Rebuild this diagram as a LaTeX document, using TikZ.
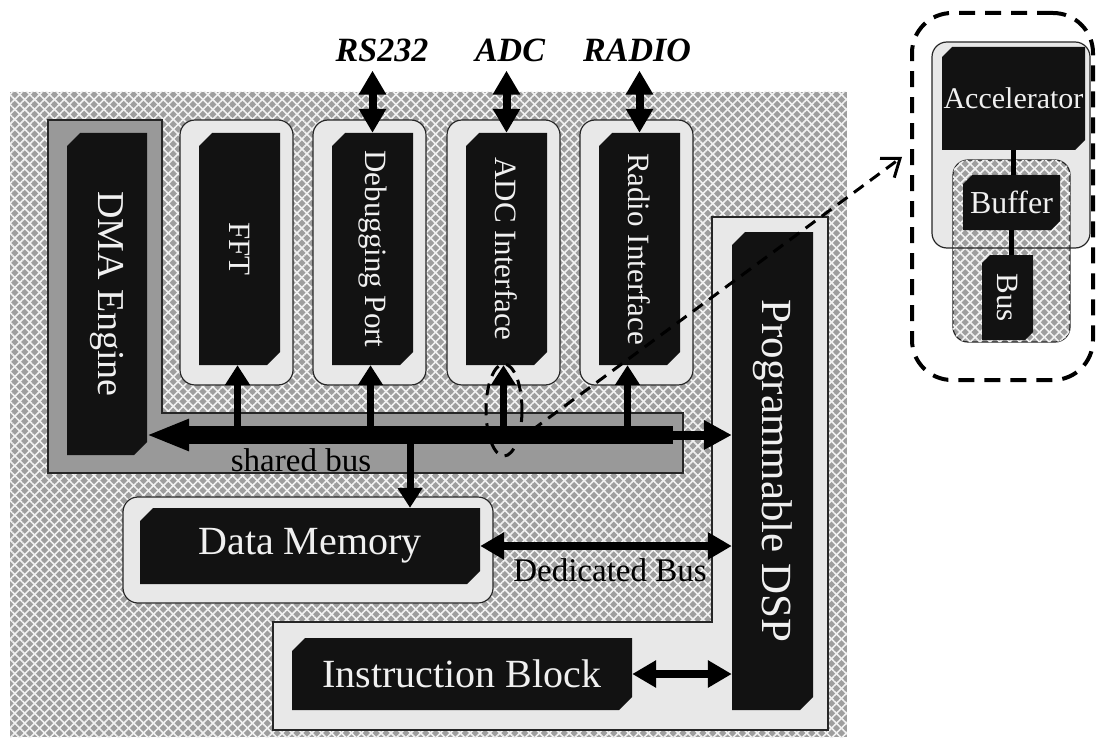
\documentclass[tikz,border=0pt]{standalone}
\usepackage{fontspec}
\setmainfont{Liberation Serif}
\usetikzlibrary{arrows.meta,patterns.meta}

% Chamfered black block: name, x1, y1, x2, y2, chamfer, text
\newcommand\chblock[7]{%
  \fill[blockfill] ({#2+#6},#3) -- (#4,#3) -- (#4,{#5-#6}) -- ({#4-#6},#5)
     -- (#2,#5) -- (#2,{#3+#6}) -- cycle;
  \node[blocktext, minimum width={#4-#2}, minimum height={#5-#3}]
     (#1) at ({(#2+#4)/2},{(#3+#5)/2}) {#7};
}
% rotated (top-to-bottom) label of a given size
\newcommand\vlab[2]{\fontsize{#1}{#1}\selectfont\rotatebox{-90}{#2}}
\newcommand\hlab[2]{\fontsize{#1}{#1}\selectfont #2}

\tikzset{
  texture/.style={fill=black!38,
    postaction={pattern={Lines[angle=45,distance=7pt,line width=1.6pt]},pattern color=black!5},
    postaction={pattern={Lines[angle=-45,distance=7pt,line width=1.6pt]},pattern color=black!5}},
  dmareg/.style={fill=black!40, draw=black!85, line width=1.2pt},
  contbox/.style={fill=black!9, draw=black!85, line width=1.2pt, rounded corners=15pt},
  lightreg/.style={fill=black!9, draw=black!85, line width=1.2pt},
  blockfill/.style={fill=black!93},
  blocktext/.style={text=black!6, inner sep=0pt, draw=none, fill=none},
  toplab/.style={font=\fontsize{34}{36}\selectfont\bfseries\itshape, inner sep=0pt},
  buslab/.style={font=\fontsize{33}{36}\selectfont, inner sep=0pt},
  dblv/.style={line width=8pt, {Triangle[width=26pt,length=24pt]}-{Triangle[width=26pt,length=24pt]}},
  dblh/.style={line width=8pt, {Triangle[width=26pt,length=24pt]}-{Triangle[width=26pt,length=24pt]}},
  vup/.style={line width=7pt, -{Triangle[width=24pt,length=20pt]}},
  dashln/.style={line width=3pt, dash pattern=on 12pt off 8pt},
  link/.style={line width=5pt},
}

\begin{document}
\begin{tikzpicture}[x=1pt,y=-1pt]
\useasboundingbox (0,0) rectangle (1097,738);

% textured chip area
\fill[texture] (10,92) rectangle (847,737);

% DMA engine region with the shared bus band
\draw[dmareg] (48,120) -- (162,120) -- (162,413) -- (683,413) -- (683,473) -- (48,473) -- cycle;

% peripheral containers
\draw[contbox] (180,120) rectangle (293,385);
\draw[contbox] (313,120) rectangle (426,385);
\draw[contbox] (447,120) rectangle (560,385);
\draw[contbox] (580,120) rectangle (693,385);

% data memory container
\draw[contbox] (123,497) rectangle (493,603);

% DSP region with the instruction block
\draw[lightreg] (712,217) -- (828,217) -- (828,730) -- (273,730) -- (273,622) -- (712,622) -- cycle;

% blocks
\chblock{dma}{67}{133}{147}{455}{13}{\vlab{38}{DMA Engine}}
\chblock{fft}{199}{133}{280}{365}{13}{\vlab{31}{FFT}}
\chblock{dbg}{332}{133}{413}{365}{13}{\vlab{31}{Debugging Port}}
\chblock{adc}{466}{133}{547}{365}{13}{\vlab{31}{ADC Interface}}
\chblock{radio}{599}{133}{680}{365}{13}{\vlab{31}{Radio Interface}}
\chblock{dmem}{140}{508}{480}{584}{13}{\hlab{40}{Data Memory}}
\chblock{dsp}{732}{232}{813}{710}{13}{\vlab{43}{Programmable DSP}}
\chblock{instr}{292}{638}{632}{710}{13}{\hlab{40}{Instruction Block}}

% external interface labels
\node[toplab] (rs) at (382,50) {RS232};
\node[toplab] (adcx) at (510,50) {ADC};
\node[toplab] (radx) at (637,50) {RADIO};

\draw[dblv] ([yshift=-9pt]rs.south -| dbg.north) -- (dbg.north);
\draw[dblv] ([yshift=-9pt]adcx.south -| adc.north) -- (adc.north);
\draw[dblv] ([yshift=-9pt]radx.south -| radio.north) -- (radio.north);

% shared bus
\node[fill=black, minimum width=485pt, minimum height=18pt, inner sep=0pt] (sbus) at (430.5,435) {};
\draw[line width=9pt, -{Triangle[width=30pt,length=42pt]}] (sbus.west) -- (dma.east |- sbus.west);
\draw[line width=9pt, -{Triangle[width=28pt,length=28pt]}] (sbus.east) -- (dsp.west |- sbus.east);

\coordinate (fftin) at ([xshift=-2pt]fft.south);
\coordinate (dbgin) at ([xshift=-2pt]dbg.south);
\coordinate (adcin) at ([xshift=-3pt]adc.south);
\coordinate (radin) at ([xshift=-12pt]radio.south);
\coordinate (dmtop) at ([xshift=100pt]dmem.north);
\draw[vup] (sbus.center -| fftin) -- (fftin);
\draw[vup] (sbus.center -| dbgin) -- (dbgin);
\draw[vup] (sbus.center -| adcin) -- (adcin);
\draw[vup] (sbus.center -| radin) -- (radin);
\draw[vup] (sbus.center -| dmtop) -- (dmtop);
\node[buslab] (sharedlab) at (301,460) {shared bus};

% dedicated bus and instruction path
\draw[dblh] (dmem.east) -- (dsp.west |- dmem.east);
\node[buslab] (dedlab) at (610,570) {Dedicated Bus};
\draw[dblh] (instr.east) -- (dsp.west |- instr.east);

% highlighted junction and pointer to the detail view
\draw[dashln] (504,410) ellipse [x radius=18, y radius=46];
\coordinate (zoomfrom) at (516,442);
\coordinate (zoomto) at (902,157);
\draw[dashln, -{Straight Barb[length=16pt,width=24pt,line width=3pt]}] (zoomfrom) -- (zoomto);

% detail view: accelerator, buffer, bus
\node[draw, line width=4pt, dash pattern=on 16pt off 10pt, rounded corners=40pt,
      minimum width=181pt, minimum height=367pt, inner sep=0pt] (inset) at (1002.5,196.5) {};
\fill[black!9, rounded corners=15pt] (932,42) rectangle (1090,248);
\draw[texture, draw=black!85, line width=1.2pt, rounded corners=15pt] (953,160) rectangle (1070,342);
\draw[draw=black!85, line width=1.2pt, rounded corners=15pt] (932,42) rectangle (1090,248);
\chblock{acc}{942}{47}{1085}{150}{10}{\hlab{30}{Accelerator}}
\chblock{buf}{963}{175}{1060}{230}{9}{\hlab{32}{Buffer}}
\chblock{busb}{982}{255}{1033}{340}{8}{\vlab{31}{Bus}}
\draw[link] (acc.south) -- (acc.south |- buf.north);
\draw[link] (buf.south) -- (buf.south |- busb.north);
\end{tikzpicture}
\end{document}
